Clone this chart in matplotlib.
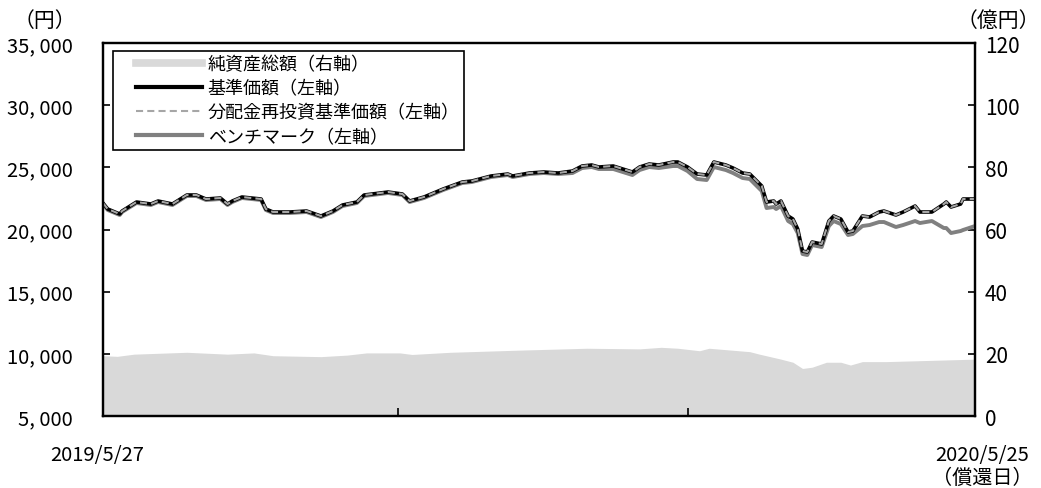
import datetime as dt
import matplotlib
matplotlib.use("Agg")
import matplotlib.pyplot as plt
import matplotlib.transforms as mtrans
from matplotlib.lines import Line2D
from matplotlib.legend_handler import HandlerLine2D

plt.rcParams['font.family'] = ['Noto Sans CJK JP', 'DejaVu Sans']

start = dt.date(2019, 5, 27)

# 経過日数（2019/5/27 から）
nav_days = [0, 2, 7, 8, 14, 20, 23, 29, 35, 39,
            43, 49, 52, 54, 58, 66, 68, 71, 78, 85,
            91, 96, 100, 106, 109, 119, 125, 128, 134, 142,
            150, 154, 162, 169, 171, 178, 184, 190, 196, 200,
            204, 207, 213, 221, 224, 228, 232, 238, 240, 244,
            248, 252, 255, 260, 263, 267, 270, 275, 277, 280,
            281, 283, 286, 288, 290, 292, 294, 296, 300, 303,
            305, 308, 311, 313, 317, 320, 324, 326, 331, 334,
            339, 341, 346, 351, 352, 354, 358, 359, 364]

nav = [22131, 21649, 21247, 21488, 22212, 22051, 22292, 22051, 22775, 22775,
       22453, 22534, 22051, 22292, 22614, 22453, 21649, 21408, 21408, 21488,
       21086, 21488, 21971, 22212, 22775, 23016, 22855, 22292, 22614, 23257,
       23820, 23901, 24303, 24464, 24303, 24544, 24625, 24544, 24705, 25107,
       25188, 25027, 25107, 24625, 25027, 25268, 25188, 25429, 25429, 25027,
       24464, 24383, 25429, 25188, 24946, 24544, 24464, 23499, 22212, 22292,
       22051, 22292, 21086, 20844, 20040, 18271, 18190, 18994, 18834, 20683,
       21086, 20844, 19799, 19879, 21086, 21006, 21408, 21488, 21167, 21408,
       21890, 21408, 21408, 22051, 22212, 21810, 22051, 22453, 22453]

# 分配金なし → 再投資基準価額は基準価額と同じ
nav_reinvest = list(nav)

bench = [22051, 21569, 21167, 21408, 22131, 21971, 22212, 21971, 22695, 22695,
         22373, 22453, 21971, 22212, 22534, 22373, 21569, 21328, 21328, 21408,
         21006, 21408, 21890, 22131, 22695, 22936, 22775, 22212, 22534, 23177,
         23740, 23820, 24222, 24383, 24222, 24464, 24544, 24464, 24544, 24946,
         25027, 24866, 24866, 24383, 24785, 25027, 24946, 25107, 25107, 24705,
         24062, 23981, 25027, 24785, 24544, 24142, 24062, 23096, 21729, 21810,
         21649, 21890, 20683, 20442, 19718, 18030, 17949, 18753, 18593, 20281,
         20683, 20442, 19558, 19638, 20281, 20362, 20603, 20603, 20201, 20362,
         20683, 20522, 20683, 20120, 20120, 19718, 19879, 19960, 20281]

# 純資産総額（億円）
aum_days = [0, 6, 13, 35, 52, 63, 71, 91, 102, 110, 124, 129, 145, 174,
            202, 224, 233, 240, 249, 253, 270, 274, 283, 288, 292, 296,
            302, 308, 312, 317, 327, 341, 364]
aum = [19.4, 19.2, 19.9, 20.5, 19.9, 20.3, 19.4, 19.1, 19.6, 20.3, 20.3, 19.8,
       20.5, 21.2, 21.8, 21.6, 22.1, 21.8, 21.0, 21.8, 20.7, 19.9, 18.3, 17.3,
       15.3, 15.7, 17.3, 17.3, 16.4, 17.5, 17.5, 17.8, 18.3]

tick_days = [0, 123, 244, 364]
tick_labels = ['2019/5/27', '', '', '2020/5/25\n（償還日）']
left_ticks = [5000, 10000, 15000, 20000, 25000, 30000, 35000]
right_ticks = [0, 20, 40, 60, 80, 100, 120]
labels = ['純資産総額（右軸）', '基準価額（左軸）',
          '分配金再投資基準価額（左軸）', 'ベンチマーク（左軸）']

nav_dates = [start + dt.timedelta(days=d) for d in nav_days]
aum_dates = [start + dt.timedelta(days=d) for d in aum_days]
tick_dates = [start + dt.timedelta(days=d) for d in tick_days]

fig = plt.figure(figsize=(10.41, 4.89), dpi=100)
ax = fig.add_axes([0.0989, 0.1472, 0.8377, 0.7628])
ax2 = ax.twinx()
ax.set_zorder(ax2.get_zorder() + 1)
ax.patch.set_visible(False)

ax2.fill_between(aum_dates, aum, 0, color='#d9d9d9', linewidth=0)
l_bench, = ax.plot(nav_dates, bench, color='#808080', lw=2.8)
l_nav, = ax.plot(nav_dates, nav, color='black', lw=2.6)
l_re, = ax.plot(nav_dates, nav_reinvest, color='#a6a6a6', lw=1.5,
                dashes=(3.4, 2.0))

ax.set_xlim(nav_dates[0], nav_dates[-1])
ax.set_ylim(5000, 35000)
ax2.set_ylim(0, 120)

ax.set_yticks(left_ticks)
ax.set_yticklabels([f'{v:,}'.replace(',', ', ') for v in left_ticks])
ax2.set_yticks(right_ticks)
ax2.set_yticklabels([str(v) for v in right_ticks])
ax.set_xticks(tick_dates)
ax.set_xticklabels(tick_labels, linespacing=1.15)

ax.tick_params(axis='x', direction='in', length=6, width=1.2, pad=20,
               labelsize=14.5)
ax.tick_params(axis='y', direction='in', length=5, width=1.2, pad=22,
               labelsize=14.5)
ax2.tick_params(axis='y', direction='in', length=5, width=1.2, pad=7,
                labelsize=15)
for a in (ax, ax2):
    for s in a.spines.values():
        s.set_linewidth(1.6)
        s.set_color('black')

# 端の日付ラベルを少し外側へ
xl = ax.get_xticklabels()
xl[0].set_transform(xl[0].get_transform() +
                    mtrans.ScaledTranslation(-0.06, 0, fig.dpi_scale_trans))
xl[-1].set_transform(xl[-1].get_transform() +
                     mtrans.ScaledTranslation(0.07, 0, fig.dpi_scale_trans))

fig.text(0.043, 0.935, '（円）', fontsize=15, ha='center', va='bottom')
fig.text(0.999, 0.935, '（億円）', fontsize=15, ha='right', va='bottom')

# 凡例（純資産は太い帯で表示）
h_area = Line2D([], [], color='#d9d9d9', lw=5.5)
h_nav = Line2D([], [], color='black', lw=3)
h_re = Line2D([], [], color='#a6a6a6', lw=1.5, dashes=(3.4, 2.0))
h_bench = Line2D([], [], color='#808080', lw=3)
leg = ax.legend([h_area, h_nav, h_re, h_bench], labels,
                loc='upper left', bbox_to_anchor=(0.0115, 0.979),
                borderaxespad=0, fontsize=13.0,
                handlelength=4.7, handletextpad=0.3, labelspacing=0.34,
                borderpad=0.25, fancybox=False, framealpha=1,
                edgecolor='black',
                handler_map={Line2D: HandlerLine2D(xpad=1.0)})
leg.get_frame().set_linewidth(1.2)

fig.savefig('out.png', dpi=100)
